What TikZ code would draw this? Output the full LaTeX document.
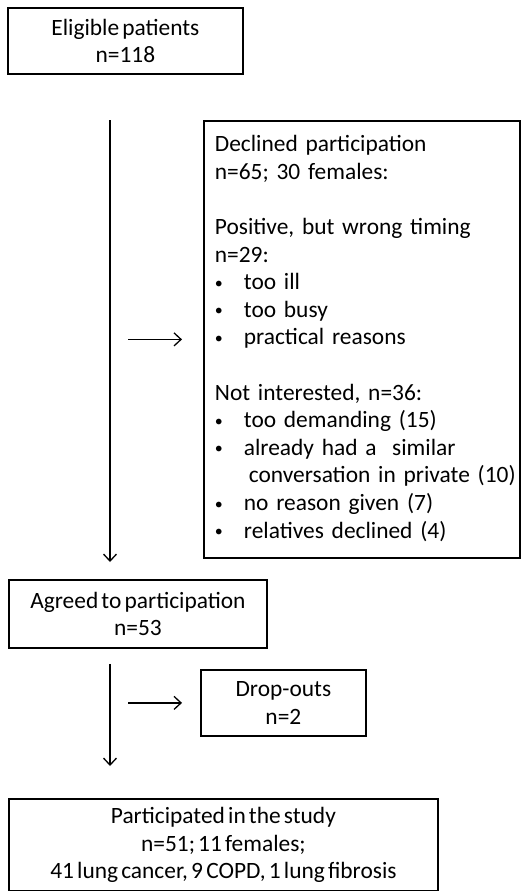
\documentclass[tikz,border=0pt]{standalone}
\usepackage{fontspec}
\setmainfont{Carlito}[WordSpace=0.6]
\usetikzlibrary{arrows.meta,positioning}
\newcommand{\itm}[1]{\makebox[29pt][l]{\raisebox{1.5pt}{\fontsize{16}{16}\selectfont\textbullet}}#1}

\begin{document}
\begin{tikzpicture}[x=1pt,y=-1pt,
  box/.style={draw,line width=1.8pt,anchor=north west,inner sep=0pt,
              font=\fontsize{23.4}{27.6}\selectfont\frenchspacing},
  cbox/.style={box,align=center},
  arr/.style={-{Straight Barb[length=7pt,width=13pt]},line width=1.3pt}
]
\useasboundingbox (0,0) rectangle (521,891);
\coordinate (spine) at (110,0);
\node[cbox,minimum width=235pt,minimum height=66pt] (elig) at (7,7)
     {Eligible patients\\n=118};
\node[box,minimum height=437pt,text width=294pt,inner xsep=11pt] (decl) at (203,120)
     {\begin{tabular}{@{}l@{}}
      Declined participation\\
      n=65; 30 females:\\
      \\
      Positive, but wrong timing\\
      n=29:\\
      \itm{too ill}\\
      \itm{too busy}\\
      \itm{practical reasons}\\
      \\
      Not interested, n=36:\\
      \itm{too demanding (15)}\\
      \itm{already had a~ similar}\\
      \hspace*{34pt}conversation in private (10)\\
      \itm{no reason given (7)}\\
      \itm{relatives declined (4)}
      \end{tabular}};
\node[cbox,minimum width=258pt,minimum height=68pt] (agree) at (8,579)
     {Agreed to participation\\n=53};
\node[cbox,minimum width=165pt,minimum height=66pt] (drop) at (200,669)
     {Drop-outs\\n=2};
\node[cbox,minimum width=429pt,minimum height=92pt] (part) at (8,798)
     {Participated in the study\\n=51; 11 females;\\41 lung cancer, 9 COPD, 1 lung fibrosis};
\draw[arr,shorten >=17pt] (spine |- decl.north) -- (spine |- agree.north);
\draw[arr,shorten <=18pt,shorten >=21pt] (spine |- decl.west) -- (decl.west);
\draw[arr,shorten <=15pt,shorten >=32pt] (spine |- agree.south) -- (spine |- part.north);
\draw[arr,shorten <=18pt,shorten >=18pt] (spine |- drop.west) -- (drop.west);
\end{tikzpicture}
\end{document}
